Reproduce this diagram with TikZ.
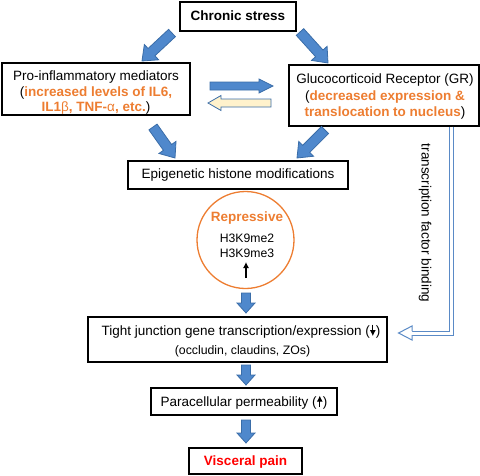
\documentclass[tikz,border=0pt]{standalone}
\usepackage{fontspec}
\setmainfont{Liberation Sans}
\usetikzlibrary{calc,arrows.meta}
\definecolor{orng}{HTML}{ED7D31}
\definecolor{bfill}{HTML}{4F88CC}
\definecolor{bline}{HTML}{3A6DA8}
\definecolor{bline2}{HTML}{5A8AC6}
\definecolor{yfill}{HTML}{FFF2CC}
\definecolor{vred}{HTML}{FF0000}
\newcommand\fs{\fontsize{13.5}{15.5}\selectfont}
\newcommand\fss{\fontsize{12.3}{14}\selectfont}
\newcommand\blockarrow[6]{%
  \coordinate (bn) at ($(#3)!#6!(#2)$);
  \draw[#1] ($(#2)!#4!90:(#3)$) -- ($(bn)!#4!90:(#3)$) -- ($(bn)!#5!90:(#3)$) -- (#3)
    -- ($(bn)!#5!-90:(#3)$) -- ($(bn)!#4!-90:(#3)$) -- ($(#2)!#4!-90:(#3)$) -- cycle;}
\newcommand\dnar{\tikz[baseline=0pt]\draw[line width=1.1pt,-{Latex[length=6pt,width=6pt]}] (0pt,10.5pt)--(0pt,-1pt);}
\newcommand\upar{\tikz[baseline=0pt]\draw[line width=1.1pt,-{Latex[length=6pt,width=6pt]}] (0pt,-1pt)--(0pt,10.5pt);}
\begin{document}
\begin{tikzpicture}[x=1pt,y=-1pt,
  box/.style={draw,line width=1.1pt,inner sep=0pt},
  txt/.style={inner sep=0pt,align=center,font=\fs},
  barrow/.style={fill=bfill,draw=bline,line width=0.8pt,line join=miter},
  yarrow/.style={fill=yfill,draw=bline,line width=0.8pt,line join=miter},
  tfline/.style={draw=bline2,line width=1pt,double=white,double distance=3pt},
  tfhead/.style={draw=bline2,fill=white,line width=1pt,line join=miter}]
\useasboundingbox (0,0) rectangle (480,475);

% boxes
\node[box,minimum width=116pt,minimum height=29pt] (cs) at (238,16.5) {};
\node[txt,font=\fs\bfseries] (cst) at (238,16) {Chronic stress};

\node[box,minimum width=188pt,minimum height=52pt] (pro) at (96,89) {};
\node[txt] (prot) at (96,93) {Pro-inflammatory mediators\\
  (\textcolor{orng}{\textbf{increased levels of IL6,}}\\
  \textcolor{orng}{\textbf{IL1{\mdseries β}, TNF-{\mdseries α}, etc.}})};

\node[box,minimum width=190pt,minimum height=61pt] (gr) at (384,95.5) {};
\node[txt,font=\fontsize{13.5}{16.5}\selectfont] (grt) at (385,97) {Glucocorticoid Receptor (GR)\\
  (\textcolor{orng}{\textbf{decreased expression \&}}\\
  \textcolor{orng}{\textbf{translocation to nucleus}})};

\node[box,minimum width=220pt,minimum height=28pt] (epi) at (238,175) {};
\node[txt] (epit) at (238,175.5) {Epigenetic histone modifications};

\node[circle,draw=orng,line width=1.3pt,minimum size=97pt,inner sep=0pt] (rep) at (245.5,240) {};
\node[txt,font=\fs\bfseries,text=orng] (rept) at (247,218) {Repressive};
\node[txt,font=\fontsize{12.2}{14}\selectfont] (h2) at (247,238.5) {H3K9me2};
\node[txt,font=\fontsize{12.2}{14}\selectfont] (h3) at (247,253.5) {H3K9me3};
\coordinate (upa) at (246,278);
\coordinate (upb) at (246,262);
\draw[line width=1.1pt,-{Latex[length=6pt,width=6pt]}] (upa) -- (upb);

\node[box,minimum width=299pt,minimum height=45pt] (tj) at (237.5,339.5) {};
\node[txt] (tjt) at (241,331) {Tight junction gene transcription/expression (\dnar)};
\node[txt,font=\fss] (tjs) at (242.5,351) {(occludin, claudins, ZOs)};

\node[box,minimum width=186pt,minimum height=27pt] (para) at (244,401.5) {};
\node[txt] (parat) at (244,402) {Paracellular permeability (\upar)};

\node[box,minimum width=113pt,minimum height=26pt] (vp) at (245.5,461) {};
\node[txt,font=\fs\bfseries,text=vred] (vpt) at (245.5,462) {Visceral pain};

% vertical label
\node[txt,rotate=-90] (tfb) at (425,223) {transcription factor binding};

% block arrows
\coordinate (a1t) at (172,33);  \coordinate (a1h) at (142,61);
\coordinate (a2t) at (300,32);  \coordinate (a2h) at (328,63);
\coordinate (a3t) at (153,127); \coordinate (a3h) at (175,158);
\coordinate (a4t) at (325,130); \coordinate (a4h) at (297,158);
\blockarrow{barrow}{a1t}{a1h}{5pt}{10.5pt}{13pt}
\blockarrow{barrow}{a2t}{a2h}{5pt}{10.5pt}{13pt}
\blockarrow{barrow}{a3t}{a3h}{5pt}{10.5pt}{13pt}
\blockarrow{barrow}{a4t}{a4h}{5pt}{10.5pt}{13pt}

\coordinate (hbt) at (210,86); \coordinate (hbh) at (273,86);
\blockarrow{barrow}{hbt}{hbh}{4pt}{7pt}{14pt}
\coordinate (hyt) at (271,103); \coordinate (hyh) at (208,103);
\blockarrow{yarrow}{hyt}{hyh}{4pt}{7.5pt}{13pt}

\coordinate (v1t) at (246,293); \coordinate (v1h) at (246,313);
\coordinate (v2t) at (246,365); \coordinate (v2h) at (246,385);
\coordinate (v3t) at (246,420); \coordinate (v3h) at (246,443);
\blockarrow{barrow}{v1t}{v1h}{4.5pt}{9pt}{10pt}
\blockarrow{barrow}{v2t}{v2h}{4.5pt}{9pt}{10pt}
\blockarrow{barrow}{v3t}{v3h}{4.5pt}{9pt}{10pt}

% transcription factor binding connector
\coordinate (tfa) at ([xshift=-28pt]gr.south east);
\coordinate (tfn) at (412,333);
\coordinate (tftip) at ([xshift=11pt,yshift=6.5pt]tj.east);
\draw[tfline] (tfa) |- (tfn);
\draw[tfhead] ([yshift=2pt]tfn) -- ([yshift=7pt]tfn) -- (tftip) -- ([yshift=-7pt]tfn) -- ([yshift=-2pt]tfn);
\end{tikzpicture}
\end{document}
